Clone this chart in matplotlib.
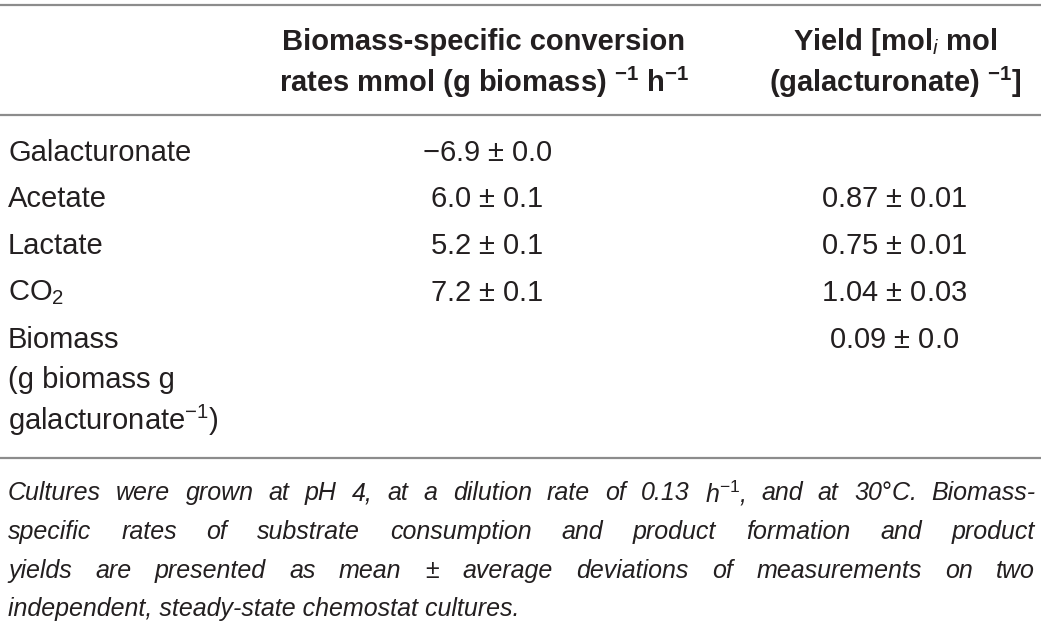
import matplotlib
matplotlib.use("Agg")
import matplotlib.pyplot as plt
from matplotlib.lines import Line2D

plt.rcParams['font.family'] = ['Liberation Sans', 'DejaVu Sans']
plt.rcParams['mathtext.fontset'] = 'custom'
plt.rcParams['mathtext.rm'] = 'Liberation Sans'
plt.rcParams['mathtext.it'] = 'Liberation Sans:italic'
plt.rcParams['mathtext.bf'] = 'Liberation Sans:bold'

# table content
col_headers = [
    ["Biomass-specific conversion",
     r"rates mmol (g biomass) $^{\mathbf{-1}}$ h$^{\mathbf{-1}}$"],
    [r"Yield [mol$_{\mathit{i}}$ mol",
     r"(galacturonate) $^{\mathbf{-1}}$]"],
]
row_labels = [
    ["Galacturonate"],
    ["Acetate"],
    ["Lactate"],
    [r"CO$_2$"],
    ["Biomass", "(g biomass g", r"galacturonate$^{-1}$)"],
]
rates = [r"$-$6.9 $\pm$ 0.0", r"6.0 $\pm$ 0.1", r"5.2 $\pm$ 0.1", r"7.2 $\pm$ 0.1", ""]
yields = ["", r"0.87 $\pm$ 0.01", r"0.75 $\pm$ 0.01", r"1.04 $\pm$ 0.03", r"0.09 $\pm$ 0.0"]
footnote = [
    r"Cultures were grown at pH 4, at a dilution rate of 0.13 h$^{\mathit{-1}}$, and at 30$\degree$C. Biomass-",
    "specific rates of substrate consumption and product formation and product",
    r"yields are presented as mean $\pm$ average deviations of measurements on two",
    "independent, steady-state chemostat cultures.",
]

W, H = 1041, 621
fig = plt.figure(figsize=(W / 100, H / 100), dpi=100)
fig.patch.set_facecolor('white')

def px(x, y):
    return x / W, 1 - y / H

fs = 21
foot_fs = 18
txt = '#231f20'
rule_color = '#8c8c8c'
for yr in [5, 115, 458]:
    fig.add_artist(Line2D([0, 1], [1 - yr / H] * 2, color=rule_color, lw=1.6,
                          transform=fig.transFigure))

# headers
hdr_x = [484, 895]
hdr_y = [42, 82]
for cx, lines in zip(hdr_x, col_headers):
    for yy, t in zip(hdr_y, lines):
        fig.text(*px(cx, yy), t, ha='center', va='center', fontsize=fs,
                 fontweight='bold', color=txt)

# body
row_y = [153, 199, 246, 293, 340]
line_step = 40
for yy, lab, r, yl in zip(row_y, row_labels, rates, yields):
    for k, t in enumerate(lab):
        fig.text(*px(8, yy + k * line_step), t, ha='left', va='center',
                 fontsize=fs, color=txt)
    if r:
        fig.text(*px(487, yy), r, ha='center', va='center', fontsize=fs, color=txt)
    if yl:
        fig.text(*px(894, yy), yl, ha='center', va='center', fontsize=fs, color=txt)

# footnote, justified to the right edge except the last line
fig.canvas.draw()
renderer = fig.canvas.get_renderer()
foot_y = [493, 532, 571, 609]
x0, x1 = 8, 1035
for i, (yy, line) in enumerate(zip(foot_y, footnote)):
    if i == len(footnote) - 1:
        fig.text(*px(x0, yy), line, ha='left', va='center', fontsize=foot_fs,
                 style='italic', color=txt)
        continue
    merged = []
    buf = ''
    for w in line.split(' '):
        buf = w if not buf else buf + ' ' + w
        if buf.count('$') % 2 == 0:
            merged.append(buf)
            buf = ''
    arts = [fig.text(0, 0, w, ha='left', va='center', fontsize=foot_fs,
                     style='italic', color=txt) for w in merged]
    widths = [a.get_window_extent(renderer).width for a in arts]
    gap = (x1 - x0 - sum(widths)) / (len(arts) - 1)
    x = x0
    for a, w in zip(arts, widths):
        a.set_position(px(x, yy))
        x += w + gap

fig.savefig('out.png', dpi=100, facecolor='white')
